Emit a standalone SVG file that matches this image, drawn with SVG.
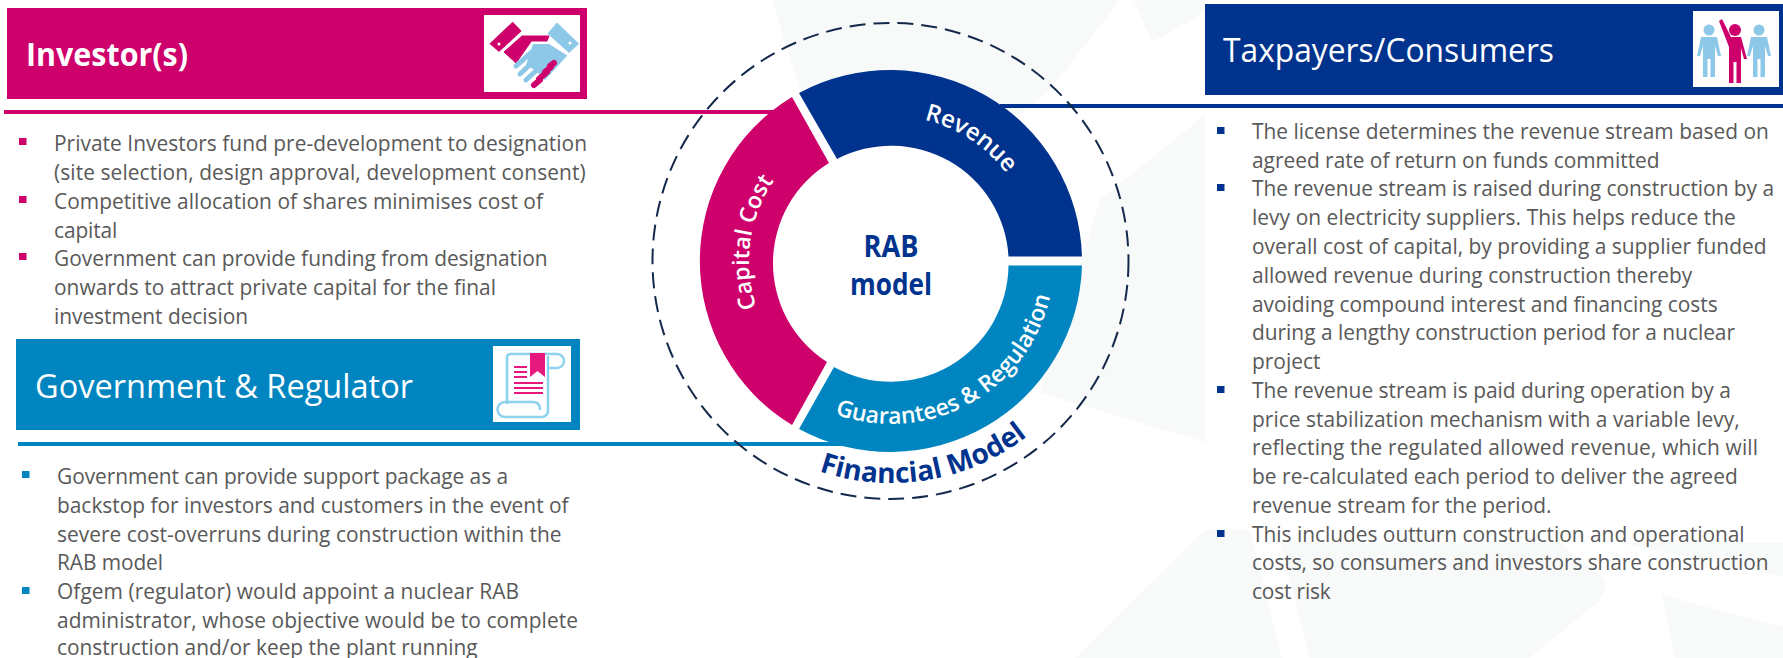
<svg xmlns="http://www.w3.org/2000/svg" width="1783" height="658" viewBox="0 0 1783 658">
<style>
.t{font-family:"Open Sans","Liberation Sans",sans-serif;font-size:20.9px;fill:#595959}
.h{font-family:"Open Sans","Liberation Sans",sans-serif;fill:#fff}
.r{font-family:"Open Sans","Liberation Sans",sans-serif;font-weight:600;fill:#fff;font-size:23px;text-anchor:middle}
.c{font-family:"Open Sans","Liberation Sans",sans-serif;font-weight:700;fill:#00338d;text-anchor:middle;font-size:30px}
.f{font-family:"Open Sans","Liberation Sans",sans-serif;font-weight:700;fill:#00338d;text-anchor:middle;font-size:28px}
</style>
<defs>
<path id="a1" d="M770.900 336.800A142 142 0 0 1 795.500 155.900" fill="none"/>
<path id="a2" d="M873.300 117.100A145 145 0 0 1 1029.700 218.600" fill="none"/>
<path id="a3" d="M797.500 394.500A163 163 0 0 0 1053.900 254.200" fill="none"/>
<path id="a4" d="M778.300 452.300A222 222 0 0 0 1059.800 405.200" fill="none"/>
</defs>
<rect width="1783" height="658" fill="#fff"/>
<g id="background" fill="#f8fafa">
<path d="M772 0H1120L1050 90L1000 130L800 90Z"/>
<path d="M1134 0L1152 42L1205 12V0Z"/>
<path d="M1205 115L1100 200L1040 393L1205 442Z"/>
<path d="M1075 658L1205 530H1250L1282 658Z"/>
<path d="M1280 543H1560L1600 575Q1610 585 1600 600L1530 658H1310Z"/>
<path d="M1620 543H1783V577Z"/>
<path d="M1662 595L1783 627V658H1675Z"/>
</g>
<g id="connectors" fill="none" stroke-width="4">
<path d="M4 112H780" stroke="#ce006c"/>
<path d="M18 444H845" stroke="#0085c0"/>
<path d="M1000 106H1783" stroke="#00338d"/>
</g>
<g id="financial-model">
<circle cx="890.500" cy="261" r="238" fill="none" stroke="#14284b" stroke-width="2" stroke-dasharray="16 8"/>
<text class="f"><textPath href="#a4" startOffset="50%">Financial Model</textPath></text>
</g>
<g id="capital-cost">
<path d="M792 97A192 192 0 0 0 792 425L827 362A117.500 117.500 0 0 1 829 163Z" fill="#ce006c"/>
<text class="r"><textPath href="#a1" startOffset="50%">Capital Cost</textPath></text>
</g>
<g id="revenue">
<path d="M799 93A192 192 0 0 1 1082 256.500H1008.500A117.500 117.500 0 0 0 837 159Z" fill="#00338d"/>
<text class="r" style="font-size:24px"><textPath href="#a2" startOffset="50%">Revenue</textPath></text>
</g>
<g id="guarantees">
<path d="M1082 265.500A192 192 0 0 1 799 429L834 367A117.500 117.500 0 0 0 1008.500 265.500Z" fill="#0085c0"/>
<text class="r"><textPath href="#a3" startOffset="50%">Guarantees &amp; Regulation</textPath></text>
</g>
<g id="rab-model">
<text class="c" x="891" y="257" textLength="55" lengthAdjust="spacingAndGlyphs">RAB</text>
<text class="c" x="891" y="295" textLength="82" lengthAdjust="spacingAndGlyphs">model</text>
</g>
<g id="investors">
<rect x="7" y="8" width="580" height="91" fill="#ce006c"/>
<rect x="484" y="15" width="96" height="77" fill="#fff"/>
<path d="M490.500 43.700L512.700 22.800L520.600 30.900L499 51Z" fill="#ce006c" stroke="#ce006c" stroke-width="1.500" stroke-linejoin="round"/>
<path d="M504 52L522 36H549L547 41H531.500L516 63Z" fill="#ce006c" stroke="#ce006c" stroke-linejoin="round"/>
<path d="M548.600 33.600L557 23.500L578 43.700L569 52Z" fill="#8ec8e8" stroke="#8ec8e8" stroke-width="1.500" stroke-linejoin="round"/>
<path d="M533 44H549L567.400 55.500L545 80L535 70L526 65Z" fill="#8ec8e8"/>
<path d="M516 66L532 52M520 74L536 59M526 80L540 67" stroke="#8ec8e8" stroke-width="5" stroke-linecap="round" fill="none"/>
<path d="M534 85L540 80M539 79L547 72M545 72L551 67M550 66L554 63" stroke="#ce006c" stroke-width="6" stroke-linecap="round" fill="none"/>
<circle cx="499" cy="44" r="1.500" fill="#fff"/><circle cx="570" cy="43" r="1.500" fill="#fff"/>
<text class="h" x="26" y="66" font-size="32" font-weight="700" textLength="162" lengthAdjust="spacingAndGlyphs">Investor(s)</text>
<rect x="19" y="138" width="7.500" height="7" fill="#ce006c"/>
<rect x="19" y="196" width="7.500" height="7" fill="#ce006c"/>
<rect x="19" y="253" width="7.500" height="7" fill="#ce006c"/>
<text class="t" x="54" y="151" textLength="533">Private Investors fund pre-development to designation</text>
<text class="t" x="54" y="180" textLength="531.600">(site selection, design approval, development consent)</text>
<text class="t" x="54" y="209" textLength="489">Competitive allocation of shares minimises cost of</text>
<text class="t" x="54" y="238" textLength="63.400">capital</text>
<text class="t" x="54" y="266" textLength="493.600">Government can provide funding from designation</text>
<text class="t" x="54" y="295" textLength="442">onwards to attract private capital for the final</text>
<text class="t" x="54" y="324" textLength="194">investment decision</text>
</g>
<g id="government">
<rect x="16" y="339" width="564" height="91" fill="#0085c0"/>
<rect x="493" y="346" width="78" height="76" fill="#fff"/>
<path d="M507 404V358Q507 354 511 354H557A6.500 6.500 0 0 1 557 368H548M548 356V410Q548 417 541 417H505A7.500 7.500 0 0 1 505 402H533Q540 402 540 410" fill="none" stroke="#8dd3f0" stroke-width="2.500"/>
<path d="M530 353H545V377L537.500 371L530 377Z" fill="#e5197e"/>
<path d="M514 367H527M514 372H527M514 377H527M514 383H543M514 388H543M514 393H543" stroke="#e5197e" stroke-width="2.200"/>
<text class="h" x="35" y="398" font-size="33" textLength="378" lengthAdjust="spacingAndGlyphs">Government &amp; Regulator</text>
<rect x="22" y="471" width="7.500" height="7" fill="#0085c0"/>
<rect x="22" y="587" width="7.500" height="7" fill="#0085c0"/>
<text class="t" x="57" y="484" textLength="451">Government can provide support package as a</text>
<text class="t" x="57" y="513" textLength="511.600">backstop for investors and customers in the event of</text>
<text class="t" x="57" y="542" textLength="504.500">severe cost-overruns during construction within the</text>
<text class="t" x="57" y="570" textLength="106">RAB model</text>
<text class="t" x="57" y="599" textLength="462">Ofgem (regulator) would appoint a nuclear RAB</text>
<text class="t" x="57" y="628" textLength="521">administrator, whose objective would be to complete</text>
<text class="t" x="57" y="655" textLength="420.600">construction and/or keep the plant running</text>
</g>
<g id="taxpayers">
<rect x="1205" y="4" width="578" height="91" fill="#00338d"/>
<rect x="1693" y="11" width="86" height="76" fill="#fff"/>
<g fill="#8ec8e8"><circle cx="1709" cy="30" r="5.500"/><path d="M1701 37H1717L1721 56H1718L1715 46V77H1710.500V59H1707.500V77H1703V46L1700 56H1697Z"/><circle cx="1759" cy="30" r="5.500"/><path d="M1751 37H1767L1771 56H1768L1765 46V77H1760.500V59H1757.500V77H1753V46L1750 56H1747Z"/></g>
<circle cx="1735" cy="30" r="6" fill="#ce006c"/>
<path d="M1719 21L1722 19L1731 37H1741L1747 59H1744L1741 48V83H1736.500V62H1733.500V83H1729V47Z" fill="#ce006c"/>
<text class="h" x="1223" y="62" font-size="32" textLength="331" lengthAdjust="spacingAndGlyphs">Taxpayers/Consumers</text>
<rect x="1217" y="127" width="7.500" height="7" fill="#00338d"/>
<rect x="1217" y="184" width="7.500" height="7" fill="#00338d"/>
<rect x="1217" y="386" width="7.500" height="7" fill="#00338d"/>
<rect x="1217" y="530" width="7.500" height="7" fill="#00338d"/>
<text class="t" x="1252" y="139" textLength="516.800">The license determines the revenue stream based on</text>
<text class="t" x="1252" y="168" textLength="407.600">agreed rate of return on funds committed</text>
<text class="t" x="1252" y="196" textLength="522">The revenue stream is raised during construction by a</text>
<text class="t" x="1252" y="225" textLength="483.800">levy on electricity suppliers. This helps reduce the</text>
<text class="t" x="1252" y="254" textLength="514.500">overall cost of capital, by providing a supplier funded</text>
<text class="t" x="1252" y="283" textLength="440.300">allowed revenue during construction thereby</text>
<text class="t" x="1252" y="312" textLength="465.700">avoiding compound interest and financing costs</text>
<text class="t" x="1252" y="340" textLength="483">during a lengthy construction period for a nuclear</text>
<text class="t" x="1252" y="369" textLength="68.400">project</text>
<text class="t" x="1252" y="398" textLength="478.800">The revenue stream is paid during operation by a</text>
<text class="t" x="1252" y="427" textLength="487.600">price stabilization mechanism with a variable levy,</text>
<text class="t" x="1252" y="455" textLength="506">reflecting the regulated allowed revenue, which will</text>
<text class="t" x="1252" y="484" textLength="485.700">be re-calculated each period to deliver the agreed</text>
<text class="t" x="1252" y="513" textLength="299.500">revenue stream for the period.</text>
<text class="t" x="1252" y="542" textLength="492.600">This includes outturn construction and operational</text>
<text class="t" x="1252" y="570" textLength="516.500">costs, so consumers and investors share construction</text>
<text class="t" x="1252" y="599" textLength="78.800">cost risk</text>
</g>
</svg>
